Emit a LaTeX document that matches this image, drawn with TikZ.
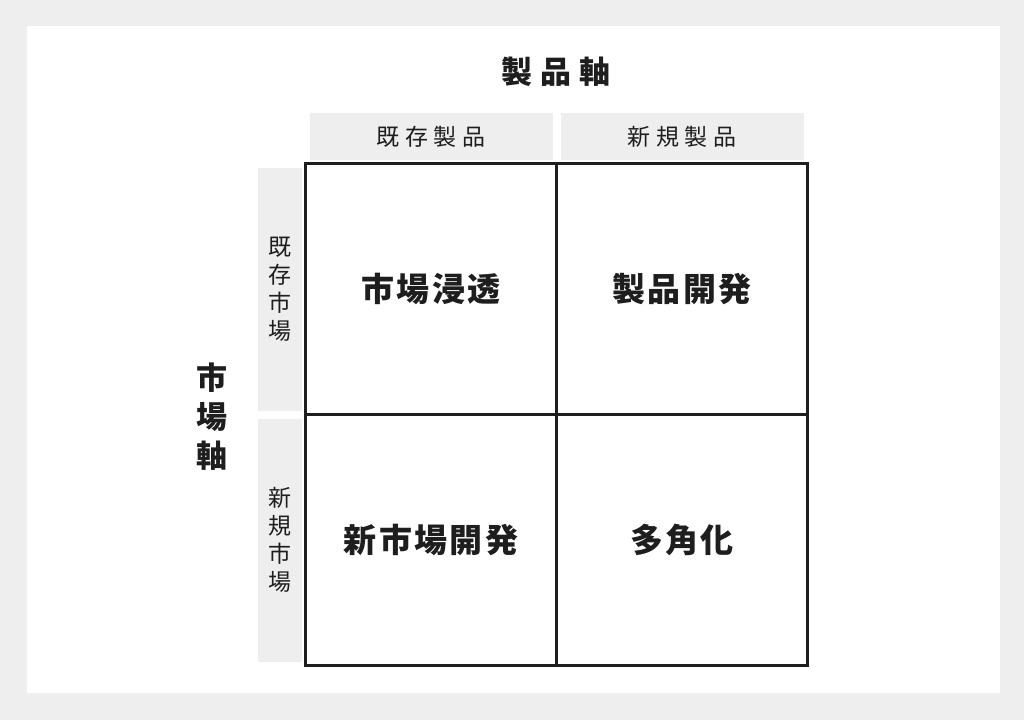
\documentclass[tikz,border=0pt]{standalone}
\usepackage{fontspec}
\newfontfamily\jpfont{Noto Sans CJK JP}
\usetikzlibrary{positioning}
\definecolor{panel}{HTML}{EEEEEE}
\definecolor{ink}{HTML}{1E1E1E}
\tikzstyle{cell}    = [rectangle, minimum width=251pt, minimum height=251pt, draw=ink, line width=3.6pt, fill=white, text=ink, font=\jpfont\bfseries\fontsize{33}{33}\selectfont\addfontfeature{LetterSpace=7}]
\tikzstyle{colhead} = [rectangle, minimum width=243pt, minimum height=47pt, inner sep=0pt, fill=panel, text=ink, font=\jpfont\fontsize{23}{23}\selectfont\addfontfeature{LetterSpace=25}]
\tikzstyle{rowhead} = [rectangle, minimum width=44pt, minimum height=243pt, inner sep=0pt, fill=panel, text=ink, align=center, font=\jpfont\fontsize{23}{28}\selectfont]
\tikzstyle{axis}    = [inner sep=0pt, text=ink, align=center, font=\jpfont\bfseries\fontsize{31}{39}\selectfont\addfontfeature{LetterSpace=26}]

\begin{document}
\begin{tikzpicture}[x=1pt, y=-1pt, node distance=251pt]
  % frame
  \fill[panel] (0,0) rectangle (1024,720);
  \fill[white] (27,26) rectangle (1000,693);

  \node (c11) [cell] at (431,289) {市場浸透};
  \node (c12) [cell, right of=c11] {製品開発};
  \node (c21) [cell, below of=c11] {新市場開発};
  \node (c22) [cell, right of=c21] {多角化};

  \node (hx1) [colhead, above=1.5pt of c11] {既存製品};
  \node (hx2) [colhead, above=1.5pt of c12] {新規製品};
  \node (hy1) [rowhead, left=2pt of c11] {既\\存\\市\\場};
  \node (hy2) [rowhead, left=2pt of c21] {新\\規\\市\\場};

  \node (xaxis) [axis] at (556,72) {製品軸};
  \node (yaxis) [axis] at (212,417) {市\\場\\軸};
\end{tikzpicture}
\end{document}
